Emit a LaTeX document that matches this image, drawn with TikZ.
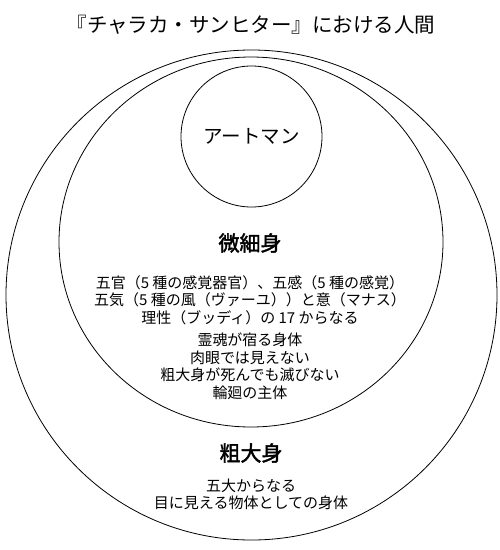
\documentclass[tikz,border=0pt]{standalone}
\usepackage{fontspec}
\setmainfont{Noto Sans CJK JP}[AutoFakeBold=2]
\usetikzlibrary{shapes.geometric,positioning}
\begin{document}
\begin{tikzpicture}[x=1pt,y=-1pt,
    ring/.style={draw,ellipse,inner sep=0pt,line width=0.8pt},
    head/.style={font=\fontsize{21}{24}\selectfont\bfseries},
    body/.style={align=center,inner sep=0pt,font=\fontsize{15}{17.5}\selectfont}]
\useasboundingbox (0,0) rectangle (500,550);

\node (title) at (251,25) {\fontsize{20.5}{24}\selectfont 『チャラカ・サンヒター』における人間};

\node[ring,minimum width=491pt,minimum height=490pt] (gross) at (251.5,295) {};
\node[ring,minimum width=384pt,minimum height=370pt] (subtle) at (251,242) {};
\node[ring,circle,minimum size=141pt,font=\fontsize{19.5}{22}\selectfont] (atman) at (251.5,136.5) {アートマン};

\node[head] (subtlename) at (250,243) {微細身};
\node[body] (parts) at (250,300) {五官（5 種の感覚器官）、五感（5 種の感覚）\\
    五気（5 種の風（ヴァーユ））と意（マナス）\\
    理性（ブッディ）の 17 からなる};
\node[body] (traits) at (250,366.5) {霊魂が宿る身体\\
    肉眼では見えない\\
    粗大身が死んでも滅びない\\
    輪廻の主体};

\node[head] (grossname) at (251,453) {粗大身};
\node[body] (grosstraits) at (251,494.5) {五大からなる\\
    目に見える物体としての身体};
\end{tikzpicture}
\end{document}
